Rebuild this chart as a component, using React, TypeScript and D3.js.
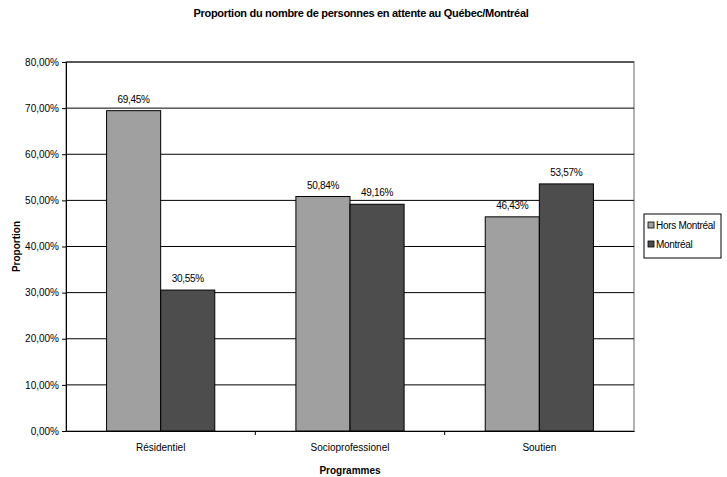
import * as React from 'react'
import * as d3 from 'd3'

const width = 727
const height = 477
const margin = { top: 62, right: 93, bottom: 46, left: 66 }
const light = '#a0a0a0'
const dark = '#4d4d4d'
const font = 'Liberation Sans, Arial, sans-serif'

const categories = ['Résidentiel', 'Socioprofessionel', 'Soutien']
const seriesNames = ['Hors Montréal', 'Montréal']
const horsMontreal = [69.45, 50.84, 46.43]
const montreal = [30.55, 49.16, 53.57]
const yTicks = [0, 10, 20, 30, 40, 50, 60, 70, 80]

const fmt = (v: number) => v.toFixed(2).replace('.', ',') + '%'

const App = () => {
  const x0 = d3
    .scaleBand()
    .domain(categories)
    .range([margin.left, width - margin.right])
  const x1 = d3
    .scaleBand()
    .domain(seriesNames)
    .range([0, x0.bandwidth()])
    .paddingInner(0)
    .paddingOuter(0.75)
  const y = d3
    .scaleLinear()
    .domain([0, 80])
    .range([height - margin.bottom, margin.top])

  const xRef = React.useRef(null)
  const yRef = React.useRef(null)

  React.useEffect(() => {
    const xAxis = d3.axisBottom(x0).tickSize(0).tickPadding(13)
    const gx = d3.select(xRef.current).call(xAxis as any)
    gx.selectAll('text').attr('font-family', font).attr('font-size', 10).attr('fill', '#000')
    gx.select('.domain').attr('stroke', '#000')
    // category separators
    gx.selectAll('.sep').remove()
    categories.slice(1).forEach(c => {
      gx.append('line')
        .attr('class', 'sep')
        .attr('x1', x0(c)!)
        .attr('x2', x0(c)!)
        .attr('y1', 0)
        .attr('y2', 4)
        .attr('stroke', '#000')
    })
    const yAxis = d3.axisLeft(y).tickValues(yTicks).tickSize(4).tickPadding(3).tickFormat(d => fmt(d as number))
    const gy = d3.select(yRef.current).call(yAxis as any)
    gy.selectAll('text').attr('font-family', font).attr('font-size', 10).attr('fill', '#000')
    gy.select('.domain').attr('stroke', '#000')
  }, [])

  const series = [horsMontreal, montreal]
  const colors = [light, dark]
  const plotW = width - margin.left - margin.right

  return (
    <svg width={width} height={height} style={{ position: 'absolute', left: 0, top: 0 }}>
      <rect width={width} height={height} fill="#fff" />
      <text x={361} y={17} textAnchor="middle" fontFamily={font} fontSize={11} fontWeight="bold" letterSpacing={-0.3}>
        Proportion du nombre de personnes en attente au Québec/Montréal
      </text>
      <rect x={margin.left} y={margin.top} width={plotW} height={height - margin.bottom - margin.top} fill="none" stroke="#999" strokeWidth={1.5} />
      {yTicks.slice(1).map(t => (
        <line key={t} x1={margin.left} x2={width - margin.right} y1={y(t)} y2={y(t)} stroke="#000" strokeWidth={1} />
      ))}
      {categories.map((c, i) => (
        <g key={c} transform={`translate(${x0(c)},0)`}>
          {series.map((s, j) => (
            <g key={j}>
              <rect x={x1(seriesNames[j])} y={y(s[i])} width={x1.bandwidth()} height={y(0) - y(s[i])} fill={colors[j]} stroke="#000" strokeWidth={1} />
              <text x={x1(seriesNames[j])! + x1.bandwidth() / 2} y={y(s[i]) - 8} textAnchor="middle" fontFamily={font} fontSize={10} letterSpacing={-0.3}>
                {fmt(s[i])}
              </text>
            </g>
          ))}
        </g>
      ))}
      <g ref={xRef} transform={`translate(0,${height - margin.bottom})`} />
      <g ref={yRef} transform={`translate(${margin.left},0)`} />
      <text x={(margin.left + width - margin.right) / 2} y={474} textAnchor="middle" fontFamily={font} fontSize={10} fontWeight="bold">
        Programmes
      </text>
      <text transform={`translate(20,${(margin.top + height - margin.bottom) / 2}) rotate(-90)`} textAnchor="middle" fontFamily={font} fontSize={10} fontWeight="bold">
        Proportion
      </text>
      <g transform="translate(644,214)">
        <rect width={77} height={44} fill="#fff" stroke="#000" />
        {seriesNames.map((n, j) => (
          <g key={n} transform={`translate(4,${12 + j * 19})`}>
            <rect x={0} y={-4} width={6} height={6} fill={colors[j]} stroke="#000" strokeWidth={0.8} />
            <text x={8} y={3} fontFamily={font} fontSize={10} letterSpacing={-0.3}>
              {n}
            </text>
          </g>
        ))}
      </g>
    </svg>
  )
}

export default App
